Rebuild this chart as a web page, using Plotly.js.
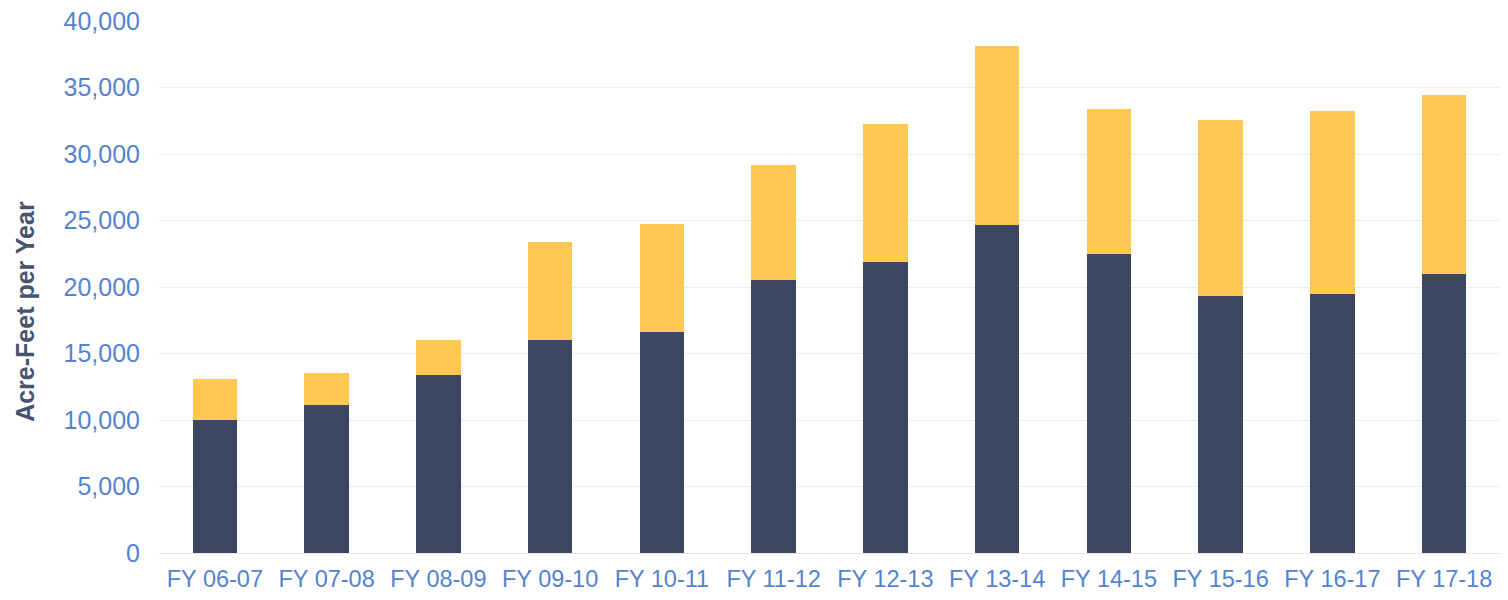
<!DOCTYPE html>
<html>
<head>
<meta charset="utf-8">
<script src="https://cdn.plot.ly/plotly-3.0.1.min.js"></script>
<style>
  html, body { margin: 0; padding: 0; background: #ffffff; }
  #chart { width: 1508px; height: 600px; }
</style>
</head>
<body>
<div id="chart"></div>
<script>
// Fiscal years shown along the x axis
const fiscalYears = ['FY 06-07', 'FY 07-08', 'FY 08-09', 'FY 09-10', 'FY 10-11', 'FY 11-12',
                     'FY 12-13', 'FY 13-14', 'FY 14-15', 'FY 15-16', 'FY 16-17', 'FY 17-18'];

// Lower (navy) segment, acre-feet per year
const baseVolume = [10000, 11150, 13350, 16050, 16650, 20500, 21850, 24650, 22450, 19300, 19450, 21000];

// Upper (yellow) segment, acre-feet per year
const topVolume = [3050, 2400, 2700, 7300, 8050, 8650, 10400, 13500, 10900, 13250, 13800, 13450];

// Y axis ticks
const yTicks = [0, 5000, 10000, 15000, 20000, 25000, 30000, 35000, 40000];
const yTickText = ['0', '5,000', '10,000', '15,000', '20,000', '25,000', '30,000', '35,000', '40,000'];

const navy = '#3b4661';
const gold = '#ffc852';
const tickBlue = '#5583cf';

const traces = [
  {
    type: 'bar',
    x: fiscalYears,
    y: baseVolume,
    marker: { color: navy, line: { width: 0 } },
    hoverinfo: 'x+y'
  },
  {
    type: 'bar',
    x: fiscalYears,
    y: topVolume,
    marker: { color: gold, line: { width: 0 } },
    hoverinfo: 'x+y'
  }
];

const layout = {
  width: 1508,
  height: 600,
  barmode: 'stack',
  bargap: 0.6,
  showlegend: false,
  paper_bgcolor: '#ffffff',
  plot_bgcolor: '#ffffff',
  margin: { l: 159, r: 8, t: 21, b: 47, pad: 0 },
  font: { family: 'Liberation Sans, Arial, sans-serif' },
  xaxis: {
    type: 'category',
    showgrid: false,
    showline: false,
    ticks: '',
    tickfont: { size: 23.5, color: tickBlue },
    ticklabelstandoff: 9
  },
  yaxis: {
    range: [0, 40000],
    tickvals: yTicks,
    ticktext: yTickText,
    showgrid: true,
    gridcolor: '#ededed',
    gridwidth: 1,
    zeroline: true,
    zerolinecolor: '#e6e6e6',
    zerolinewidth: 1,
    showline: false,
    ticks: '',
    tickfont: { size: 25, color: tickBlue },
    ticklabelstandoff: 18
  },
  annotations: [
    {
      text: '<b>Acre-Feet per Year</b>',
      textangle: -90,
      xref: 'paper', yref: 'paper',
      x: -0.1, y: 0.455,
      xanchor: 'center', yanchor: 'middle',
      showarrow: false,
      font: { size: 25, color: '#46546e', family: 'Liberation Sans, Arial, sans-serif' }
    }
  ]
};

Plotly.newPlot('chart', traces, layout, { displayModeBar: false, staticPlot: true });
</script>
</body>
</html>
